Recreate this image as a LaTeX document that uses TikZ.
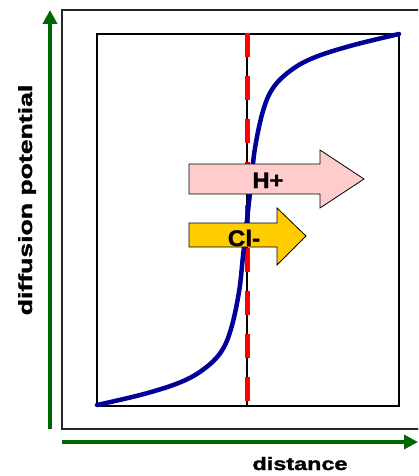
\documentclass[tikz,border=0pt]{standalone}
\usepackage{fontspec}
\setmainfont{Liberation Sans}
\newfontfamily\labelfont{Liberation Sans Bold}[FakeBold=1.4]
\usepackage{graphicx}
\usetikzlibrary{arrows.meta, positioning, calc}

\definecolor{axisgreen}{RGB}{0,102,0}
\definecolor{curveblue}{RGB}{0,0,153}
\definecolor{hpink}{RGB}{255,204,204}
\definecolor{clgold}{RGB}{255,204,0}

\begin{document}
\begin{tikzpicture}[x=1pt, y=-1pt, >=Stealth,
    axis/.style={axisgreen, line width=4pt, -{Triangle[length=14pt, width=14pt]}},
    lbl/.style={font=\labelfont\fontsize{18}{20}\selectfont, inner sep=0pt},
    ionarrow/.style={draw=black, line width=0.8pt, line join=miter},
    ionlbl/.style={font=\labelfont\fontsize{22.5}{24}\selectfont, inner sep=0pt, anchor=base}]
      \useasboundingbox (0,0) rectangle (418,476);
      \clip (0,0) rectangle (418,476);

      % frames
      \draw[black!85, line width=1.5pt] (430,10) -- (62,10) -- (62,429) -- (430,429);
      \draw[black, line width=1.6pt] (97,34) rectangle (399,406);

      % axes
      \coordinate (yfoot) at (50,429);
      \coordinate (ytip) at (50,10);
      \coordinate (xfoot) at (62,442);
      \coordinate (xtip) at (418,442);
      \draw[axis] (yfoot) -- (ytip);
      \draw[axis] (xfoot) -- (xtip);
      \node[lbl, anchor=base] (xlabel) at (300,470) {\scalebox{1.3}[1]{distance}};
      \node[lbl, font=\labelfont\fontsize{19}{21}\selectfont, rotate=90, anchor=base] (ylabel) at (32,200)
        {\scalebox{1.4}[1]{diffusion potential}};

      % membrane
      \coordinate (mtop) at (247,34);
      \coordinate (mbot) at (247,406);
      \draw[black, line width=1.2pt] (mtop) -- (mbot);
      \draw[red, line width=5pt, dash pattern=on 24pt off 19pt] (247,33) -- (mbot);

      % potential profile
      \draw[curveblue, line width=4.5pt, line cap=round] plot[smooth, tension=0.6] coordinates {
        (97,405) (144,394) (181,382) (204,369) (221,352) (231,329) (239,292)
        (243,256) (247,220) (251,184) (255,148) (263,111) (273,88) (290,71)
        (313,58) (350,46) (399,34)};

      % ion fluxes
      \draw[ionarrow, fill=hpink] (189,164) -- (320,164) -- (320,150) -- (364,179)
        -- (320,208) -- (320,194) -- (189,194) -- cycle;
      \node[ionlbl] (hplus) at (268,188) {\scalebox{1.05}[1]{H+}};

      \draw[ionarrow, fill=clgold] (189,223) -- (277,223) -- (277,208) -- (306,236)
        -- (277,265) -- (277,247) -- (189,247) -- cycle;
      \node[ionlbl] (clminus) at (244,246) {\scalebox{1.08}[1]{Cl-}};
\end{tikzpicture}
\end{document}
